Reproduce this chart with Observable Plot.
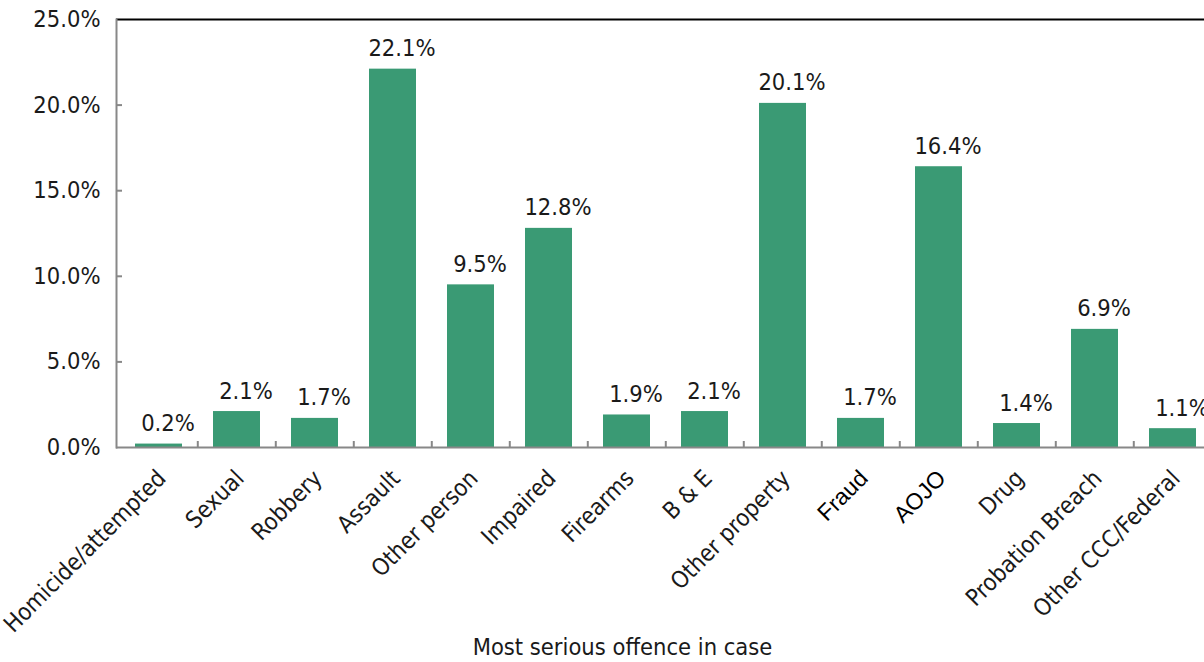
<!DOCTYPE html>
<html>
<head>
<meta charset="utf-8">
<script src="https://cdn.jsdelivr.net/npm/d3@7"></script>
<script src="https://cdn.jsdelivr.net/npm/@observablehq/plot@0.6"></script>
<style>
  html, body { margin: 0; padding: 0; background: #fff; overflow: hidden; }
  #chart svg { display: block; }
  #chart svg text { font-stretch: condensed; }
  #chart svg g.wide text { font-stretch: normal; }
</style>
</head>
<body>
<div id="chart"></div>
<script>
const categories = ["Homicide/attempted", "Sexual", "Robbery", "Assault", "Other person", "Impaired", "Firearms", "B & E", "Other property", "Fraud", "AOJO", "Drug", "Probation Breach", "Other CCC/Federal"];
const shares = [0.2, 2.1, 1.7, 22.1, 9.5, 12.8, 1.9, 2.1, 20.1, 1.7, 16.4, 1.4, 6.9, 1.1];
const yTicks = [0, 5, 10, 15, 20, 25];
const xTitle = "Most serious offence in case";
const wideLabels = ["Fraud", "AOJO"];

const data = categories.map((c, i) => ({category: c, value: shares[i]}));

const narrow = "'DejaVu Sans Condensed', 'DejaVu Sans', sans-serif";
const W = 1204, H = 662, ML = 116, MR = -10, MT = 19, MB = 215;
const frameW = W - ML - MR;
const step = frameW / categories.length;

const chart = Plot.plot({
  width: W,
  height: H,
  marginLeft: ML,
  marginRight: MR,
  marginTop: MT,
  marginBottom: MB,
  style: {fontFamily: narrow, fontSize: "23.5px", color: "#1a1a1a", background: "#fff", overflow: "visible"},
  x: {domain: categories, paddingInner: 0.4, paddingOuter: 0.2, axis: null},
  y: {domain: [0, 25], axis: null},
  marks: [
    Plot.barY(data, {x: "category", y: "value", fill: "#3a9a74"}),
    Plot.tickY(yTicks.slice(1, -1), {y: d => d, stroke: "#888", strokeWidth: 2, insetRight: frameW - 6}),
    Plot.tickX(categories.slice(1), {x: d => d, dx: -step / 2, stroke: "#888", strokeWidth: 2, insetTop: (H - MT - MB) - 6}),
    Plot.ruleY([0], {stroke: "#888", strokeWidth: 2}),
    Plot.ruleY([25], {stroke: "#000", strokeWidth: 2}),
    Plot.frame({anchor: "left", stroke: "#888", strokeWidth: 2}),
    Plot.text(yTicks, {y: d => d, text: d => d.toFixed(1) + "%", frameAnchor: "left", textAnchor: "end", dx: -16, fill: "#1a1a1a"}),
    Plot.text(data, {x: "category", y: "value", text: d => d.value.toFixed(1) + "%", lineAnchor: "bottom", dy: -13, dx: 9, fill: "#1a1a1a"}),
    Plot.text(data.filter(d => !wideLabels.includes(d.category)), {x: "category", text: "category", frameAnchor: "bottom", rotate: -45, textAnchor: "end", lineAnchor: "middle", dx: 3, dy: 27, fill: "#1a1a1a"}),
    Plot.text(data.filter(d => wideLabels.includes(d.category)), {x: "category", text: "category", frameAnchor: "bottom", rotate: -45, textAnchor: "end", lineAnchor: "middle", dx: 3, dy: 27, fill: "#000", fontFamily: "'Liberation Sans', Arial, sans-serif", fontSize: 23, className: "wide"}),
    Plot.text([xTitle], {text: d => d, frameAnchor: "bottom", dx: 622 - (ML + frameW / 2), dy: 200, lineAnchor: "middle", fill: "#1a1a1a"})
  ]
});
document.getElementById("chart").appendChild(chart);
</script>
</body>
</html>
